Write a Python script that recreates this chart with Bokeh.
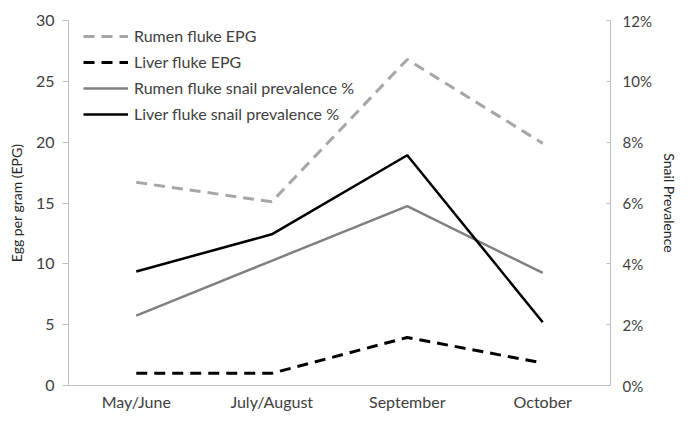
from bokeh.plotting import figure
from bokeh.models import (Range1d, FactorRange, LinearAxis, Legend, LegendItem,
                          SingleIntervalTicker, PrintfTickFormatter, ColumnDataSource)
from bokeh.embed import file_html
from bokeh.resources import INLINE

categories = ["May/June", "July/August", "September", "October"]
rumen_epg = [16.7, 15.1, 26.8, 19.9]
liver_epg = [1.0, 1.0, 3.95, 1.85]
rumen_snail_pct = [2.3, 4.1, 5.9, 3.7]
liver_snail_pct = [3.75, 4.97, 7.57, 2.08]
epg_ticks = [0, 5, 10, 15, 20, 25, 30]
pct_ticks = [0, 2, 4, 6, 8, 10, 12]

FONT = "Lato"
TXT = "#404040"
AX = "#bfbfbf"

src = ColumnDataSource(dict(cat=categories, r_epg=rumen_epg, l_epg=liver_epg,
                            r_sn=rumen_snail_pct, l_sn=liver_snail_pct))

p = figure(width=680, height=413, output_backend="svg", toolbar_location=None,
           x_range=FactorRange(factors=categories, range_padding=0),
           y_range=Range1d(epg_ticks[0], epg_ticks[-1]),
           min_border_left=68, min_border_right=60, min_border_top=20, min_border_bottom=26)
p.outline_line_color = None
p.xgrid.grid_line_color = None
p.ygrid.grid_line_color = None
p.extra_y_ranges = {"pct": Range1d(pct_ticks[0], pct_ticks[-1])}

r1 = p.line("cat", "r_epg", source=src, line_color="#a6a6a6", line_width=3, line_dash="11 7")
r2 = p.line("cat", "l_epg", source=src, line_color="#000000", line_width=3, line_dash="11 7")
r3 = p.line("cat", "r_sn", source=src, y_range_name="pct", line_color="#808080", line_width=2.5)
r4 = p.line("cat", "l_sn", source=src, y_range_name="pct", line_color="#000000", line_width=2.5)

# left axis
ya = p.yaxis[0]
ya.ticker = SingleIntervalTicker(interval=5)
ya.axis_label = "Egg per gram (EPG)"
ya.axis_line_color = AX
ya.major_tick_line_color = AX
ya.major_tick_out = 6
ya.major_tick_in = 0
ya.minor_tick_line_color = None
ya.major_label_standoff = 8
ya.major_label_text_font = FONT
ya.major_label_text_font_size = "16px"
ya.major_label_text_color = TXT
ya.axis_label_text_font = FONT
ya.axis_label_text_font_size = "14px"
ya.axis_label_text_font_style = "normal"
ya.axis_label_text_color = "#262626"
ya.axis_label_standoff = 8

# right axis
ra = LinearAxis(y_range_name="pct", ticker=SingleIntervalTicker(interval=2),
                formatter=PrintfTickFormatter(format="%d%%"))
ra.axis_label = "Snail Prevalence"
ra.axis_line_color = AX
ra.major_tick_line_color = AX
ra.major_tick_out = 0
ra.major_tick_in = 4
ra.minor_tick_line_color = None
ra.minor_tick_out = 0
ra.major_label_standoff = 12
ra.major_label_text_font = FONT
ra.major_label_text_font_size = "15px"
ra.major_label_text_color = TXT
ra.axis_label_text_font = FONT
ra.axis_label_text_font_size = "14px"
ra.axis_label_text_font_style = "normal"
ra.axis_label_text_color = "#262626"
ra.axis_label_standoff = 6
p.add_layout(ra, "right")

# bottom axis
xa = p.xaxis[0]
xa.axis_line_color = AX
xa.major_tick_line_color = None
xa.minor_tick_line_color = None
xa.major_tick_out = 0
xa.minor_tick_out = 0
xa.major_label_standoff = 6
xa.major_label_text_font = FONT
xa.major_label_text_font_size = "16px"
xa.major_label_text_color = TXT

legend = Legend(items=[
    LegendItem(label="Rumen fluke EPG", renderers=[r1]),
    LegendItem(label="Liver fluke EPG", renderers=[r2]),
    LegendItem(label="Rumen fluke snail prevalence %", renderers=[r3]),
    LegendItem(label="Liver fluke snail prevalence %", renderers=[r4]),
], location=(15, 262))
legend.background_fill_alpha = 0
legend.border_line_color = None
legend.padding = 0
legend.margin = 0
legend.spacing = 7
legend.glyph_width = 45
legend.glyph_height = 18
legend.label_height = 18
legend.label_standoff = 6
legend.label_text_font = FONT
legend.label_text_font_size = "16px"
legend.label_text_color = TXT
p.add_layout(legend, "center")

open("out.html", "w").write(file_html(p, INLINE))
